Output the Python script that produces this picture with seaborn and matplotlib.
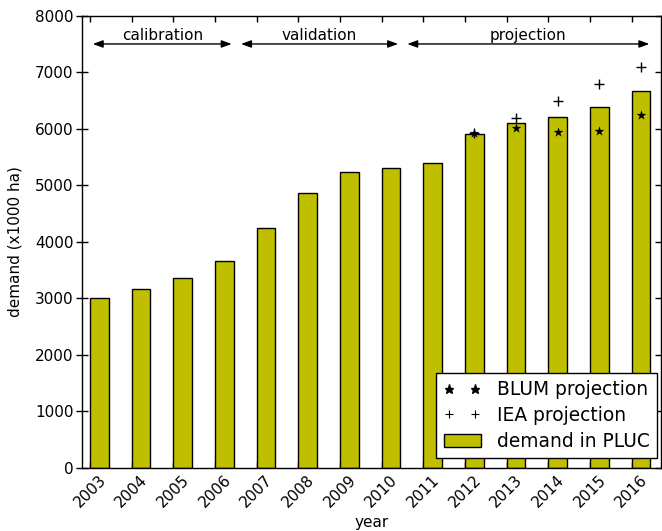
import numpy as np
import pandas as pd
import matplotlib
matplotlib.use("Agg")
import matplotlib.pyplot as plt
from matplotlib.lines import Line2D
from matplotlib.patches import Patch
import seaborn as sns

# Land demand for sugar cane (x1000 ha)
years = [2003, 2004, 2005, 2006, 2007, 2008, 2009, 2010,
         2011, 2012, 2013, 2014, 2015, 2016]
demand_pluc = [3005, 3155, 3365, 3650, 4250, 4870, 5240, 5310,
               5400, 5915, 6105, 6215, 6390, 6675]

proj_years = [2012, 2013, 2014, 2015, 2016]
blum_proj = [5920, 6015, 5945, 5965, 6250]
iea_proj = [5930, 6195, 6495, 6795, 7095]

# periods: (label, first x, last x) on the bar-centre axis
periods = [("calibration", -0.16, 3.175),
           ("validation", 3.40, 7.17),
           ("projection", 7.39, 13.20)]

sns.set_theme(style="ticks")
plt.rcParams["font.family"] = ["DejaVu Sans"]
plt.rcParams.update({"text.color": "black", "axes.labelcolor": "black",
                     "xtick.color": "black", "ytick.color": "black",
                     "axes.edgecolor": "black"})

bar_color = (0.75, 0.75, 0.0)

df = pd.DataFrame({"year": [str(y) for y in years], "demand": demand_pluc})

fig = plt.figure(figsize=(6.62, 5.31), dpi=100)
ax = fig.add_axes([0.1234, 0.1192, 0.8751, 0.8512])

sns.barplot(data=df, x="year", y="demand", ax=ax, color=bar_color,
            saturation=1, width=0.45, edgecolor="black", linewidth=1.0)

idx = [years.index(y) for y in proj_years]
sns.scatterplot(x=idx, y=iea_proj, ax=ax, marker="+", color="black",
                s=42, linewidth=1.0, zorder=5)
sns.scatterplot(x=idx, y=blum_proj, ax=ax, marker="*", color="black",
                s=55, linewidth=0, zorder=5)

# period arrows and labels
for name, x0, x1 in periods:
    ax.annotate("", xy=(x1, 7500), xytext=(x0, 7500),
                arrowprops=dict(arrowstyle="<|-|>,head_length=0.6,head_width=0.22",
                                color="black", lw=1.0, shrinkA=0, shrinkB=0,
                                mutation_scale=10))
    ax.text((x0 + x1) / 2, 7570, name, ha="center", va="baseline",
            fontsize=11)

ax.set_ylim(0, 8000)
ax.set_yticks(np.arange(0, 8001, 1000))
ax.set_xlim(-0.425, 13.48)
ax.set_xticks(np.arange(len(years)) - 0.225)
ax.set_xticklabels([str(y) for y in years], rotation=45, ha="center",
                   fontsize=11)
ax.tick_params(axis="y", labelsize=11, direction="inout", length=8,
               width=1, left=True, right=True, pad=2)
ax.tick_params(axis="x", direction="in", length=4, width=1,
               top=True, bottom=True, pad=3)
for sp in ax.spines.values():
    sp.set_visible(True)
    sp.set_linewidth(1.0)
    sp.set_color("black")

ax.set_xlabel("year", fontsize=11)
ax.set_ylabel("demand (x1000 ha)", fontsize=11, labelpad=9)

handles = [
    Line2D([], [], marker="*", ls="none", color="black", markersize=6.5),
    Line2D([], [], marker="+", ls="none", color="black", markersize=6,
           markeredgewidth=0.8),
    Patch(facecolor=bar_color, edgecolor="black", linewidth=1.0),
]
labels = ["BLUM projection", "IEA projection", "demand in PLUC"]
leg = ax.legend(handles, labels, loc="lower right",
                bbox_to_anchor=(657 / 662, (531 - 458) / 531),
                bbox_transform=fig.transFigure, borderaxespad=0,
                fontsize=13.4, numpoints=2, fancybox=False, framealpha=1,
                edgecolor="black", labelspacing=0.36, handletextpad=0.85,
                handlelength=2.0, borderpad=0.4)
leg.get_frame().set_linewidth(1.0)

fig.savefig("out.png", dpi=100)
